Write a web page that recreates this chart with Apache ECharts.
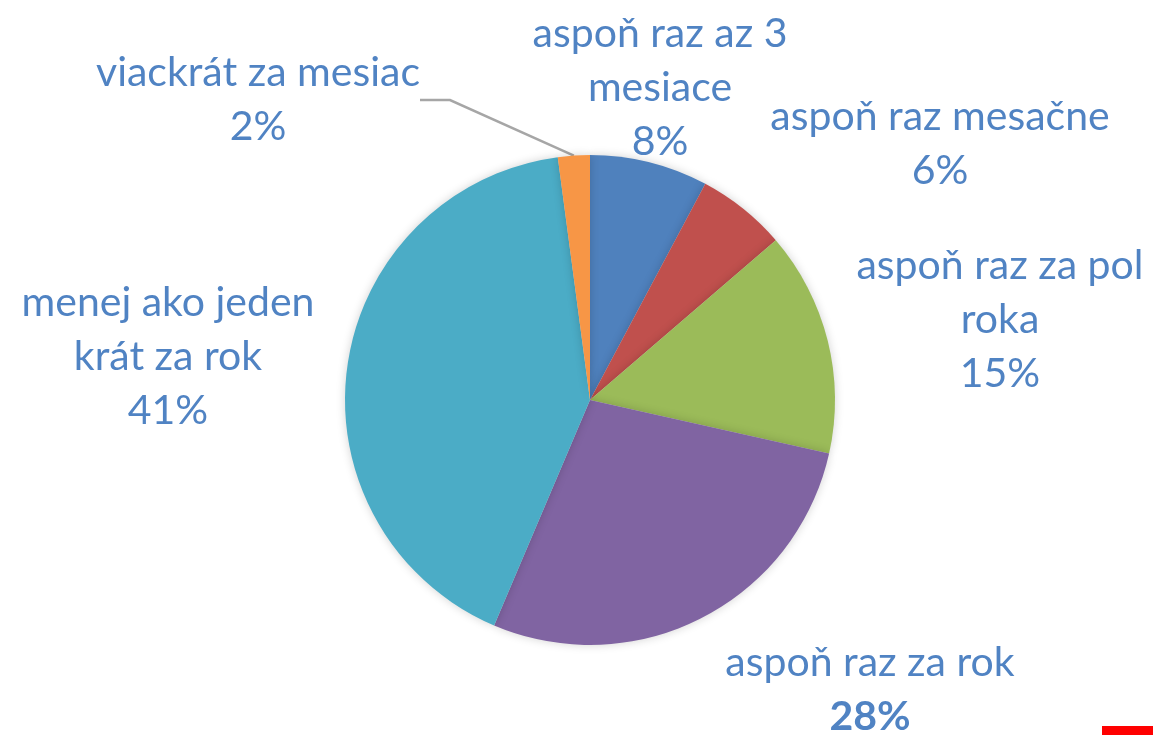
<!DOCTYPE html>
<html>
<head>
<meta charset="utf-8">
<script src="https://cdn.jsdelivr.net/npm/echarts@6/dist/echarts.min.js"></script>
<style>
  html, body { margin: 0; padding: 0; background: #fff; }
  #chart { width: 1153px; height: 735px; }
</style>
</head>
<body>
<div id="chart"></div>
<script>
// categories and values, clockwise from 12 o'clock
const categories = [
  'aspoň raz az 3\nmesiace',
  'aspoň raz mesačne',
  'aspoň raz za pol\nroka',
  'aspoň raz za rok',
  'menej ako jeden\nkrát za rok',
  'viackrát za mesiac'
];
// slice sizes as drawn, and the rounded percents printed on the labels
const shares = [7.8, 5.9, 14.8, 27.9, 41.5, 2.1];
const shownPercents = [8, 6, 15, 28, 41, 2];
const colors = ['#4f81bd', '#c0504d', '#9bbb59', '#8064a2', '#4bacc6', '#f79646'];

// where each label block sits (centre of the text)
const labelSpots = [
  [660, 88], [940, 144], [1000, 320], [870, 690], [168, 357], [258, 100]
];

const chart = echarts.init(document.getElementById('chart'));

chart.setOption({
  animation: false,
  series: [{
    type: 'pie',
    center: [590, 400],
    radius: 245,
    startAngle: 90,
    clockwise: true,
    itemStyle: {
      shadowBlur: 10,
      shadowColor: 'rgba(0,0,0,0.18)'
    },
    label: {
      show: true,
      overflow: 'none',
      fontFamily: 'Lato',
      fontSize: 41,
      lineHeight: 54,
      color: '#5083c3',
      align: 'center',
      formatter: function (p) {
        const pct = shownPercents[p.dataIndex] + '%';
        if (p.dataIndex === 3) return p.name + '\n{b|' + pct + '}';
        return p.name + '\n' + pct;
      },
      rich: {
        b: { fontFamily: 'Lato', fontSize: 41, fontWeight: 'bold', color: '#5083c3', lineHeight: 54 }
      }
    },
    labelLine: { show: false },
    labelLayout: function (p) {
      const s = labelSpots[p.dataIndex];
      return { x: s[0], y: s[1], align: 'center', verticalAlign: 'middle' };
    },
    data: categories.map(function (c, i) {
      const d = { name: c, value: shares[i], itemStyle: { color: colors[i] } };
      if (i === 5) {
        d.labelLine = { show: true, length: 30, length2: 30, lineStyle: { color: '#a6a6a6', width: 2.5 } };
      }
      return d;
    })
  }],
  graphic: [{
    type: 'rect',
    shape: { x: 1102, y: 726, width: 51, height: 9 },
    style: { fill: '#ff0000' }
  }]
});
</script>
</body>
</html>
